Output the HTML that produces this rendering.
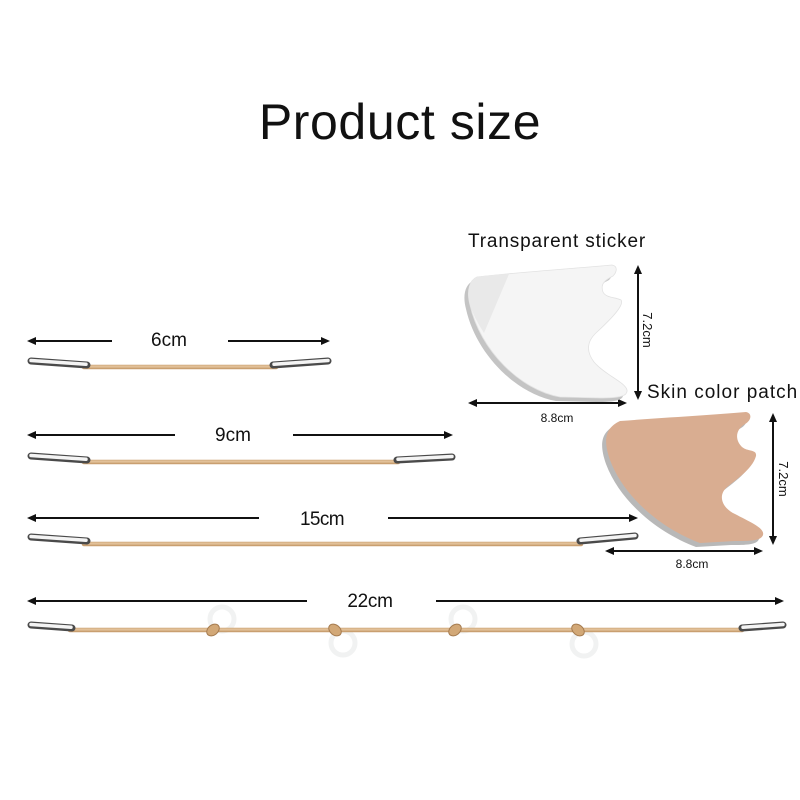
<!DOCTYPE html>
<html>
<head>
<meta charset="utf-8">
<style>
  html,body{margin:0;padding:0;background:#fff;}
  svg{display:block;}
  text{font-family:"Liberation Sans", sans-serif;fill:#111;}
</style>
</head>
<body>
<svg width="800" height="800" viewBox="0 0 800 800" xmlns="http://www.w3.org/2000/svg">
  <rect width="800" height="800" fill="#fff"/>

  <!-- Title -->
  <text x="400" y="139" font-size="50" text-anchor="middle" letter-spacing="0.6">Product size</text>

  <!-- ===== Arrows ===== -->
  <g stroke="#111" stroke-width="2" fill="none">
    <line x1="33" y1="341" x2="112" y2="341"/>
    <line x1="228" y1="341" x2="324" y2="341"/>
    <line x1="33" y1="435" x2="175" y2="435"/>
    <line x1="293" y1="435" x2="447" y2="435"/>
    <line x1="33" y1="518" x2="259" y2="518"/>
    <line x1="388" y1="518" x2="632" y2="518"/>
    <line x1="33" y1="601" x2="307" y2="601"/>
    <line x1="436" y1="601" x2="778" y2="601"/>
    <line x1="474" y1="403" x2="621" y2="403"/>
    <line x1="638" y1="271" x2="638" y2="394"/>
    <line x1="611" y1="551" x2="757" y2="551"/>
    <line x1="773" y1="419" x2="773" y2="539"/>
  </g>
  <g fill="#111">
    <polygon points="27,341 36,337 36,345"/>
    <polygon points="330,341 321,337 321,345"/>
    <polygon points="27,435 36,431 36,439"/>
    <polygon points="453,435 444,431 444,439"/>
    <polygon points="27,518 36,514 36,522"/>
    <polygon points="638,518 629,514 629,522"/>
    <polygon points="27,601 36,597 36,605"/>
    <polygon points="784,601 775,597 775,605"/>
    <polygon points="468,403 477,399 477,407"/>
    <polygon points="627,403 618,399 618,407"/>
    <polygon points="638,265 634,274 642,274"/>
    <polygon points="638,400 634,391 642,391"/>
    <polygon points="605,551 614,547 614,555"/>
    <polygon points="763,551 754,547 754,555"/>
    <polygon points="773,413 769,422 777,422"/>
    <polygon points="773,545 769,536 777,536"/>
  </g>

  <!-- Length labels -->
  <text x="169" y="346" font-size="19" text-anchor="middle">6cm</text>
  <text x="233" y="441" font-size="19" text-anchor="middle">9cm</text>
  <text x="322" y="525" font-size="19" text-anchor="middle" letter-spacing="-0.6">15cm</text>
  <text x="370" y="607" font-size="19" text-anchor="middle" letter-spacing="-0.3">22cm</text>

  <!-- rings (22cm) - very faint -->
  <g fill="none" stroke="#eceeee" stroke-width="5" opacity="0.75">
    <circle cx="222" cy="619" r="12"/>
    <circle cx="343" cy="643" r="12"/>
    <circle cx="463" cy="619" r="12"/>
    <circle cx="584" cy="644" r="12"/>
  </g>

  <!-- ===== Elastic bands ===== -->
  <g stroke-linecap="round">
    <g stroke="#c99f70" stroke-width="4.5">
      <line x1="84" y1="367" x2="276" y2="367"/>
      <line x1="84" y1="462" x2="398" y2="462"/>
      <line x1="84" y1="544" x2="581" y2="544"/>
      <line x1="70" y1="630" x2="742" y2="630"/>
    </g>
    <g stroke="#e2c098" stroke-width="2.2">
      <line x1="84" y1="366.5" x2="276" y2="366.5"/>
      <line x1="84" y1="461.5" x2="398" y2="461.5"/>
      <line x1="84" y1="543.5" x2="581" y2="543.5"/>
      <line x1="70" y1="629.5" x2="742" y2="629.5"/>
    </g>
  </g>

  <!-- knots -->
  <g fill="#d2a877" stroke="#a67c50" stroke-width="1">
    <ellipse cx="213" cy="630" rx="7" ry="5" transform="rotate(-40 213 630)"/>
    <ellipse cx="335" cy="630" rx="7" ry="5" transform="rotate(40 335 630)"/>
    <ellipse cx="455" cy="630" rx="7" ry="5" transform="rotate(-40 455 630)"/>
    <ellipse cx="578" cy="630" rx="7" ry="5" transform="rotate(40 578 630)"/>
  </g>

  <!-- ===== Metal clips ===== -->
  <g stroke-linecap="round">
    <g stroke="#4a4a4a" stroke-width="7">
      <line x1="31" y1="361" x2="87" y2="365"/>
      <line x1="273" y1="365" x2="328" y2="361"/>
      <line x1="31" y1="456" x2="87" y2="460"/>
      <line x1="397" y1="460" x2="452" y2="457"/>
      <line x1="31" y1="537" x2="87" y2="541"/>
      <line x1="580" y1="541" x2="635" y2="536"/>
      <line x1="31" y1="625" x2="72" y2="628"/>
      <line x1="742" y1="628" x2="783" y2="625"/>
    </g>
    <g stroke="#f4f4f4" stroke-width="3.5">
      <line x1="31" y1="360.5" x2="86" y2="364.2"/>
      <line x1="274" y1="364.2" x2="328" y2="360.5"/>
      <line x1="31" y1="455.5" x2="86" y2="459.2"/>
      <line x1="398" y1="459.3" x2="452" y2="456.5"/>
      <line x1="31" y1="536.5" x2="86" y2="540.2"/>
      <line x1="581" y1="540.2" x2="635" y2="535.5"/>
      <line x1="31" y1="624.5" x2="71" y2="627.3"/>
      <line x1="743" y1="627.3" x2="783" y2="624.5"/>
    </g>
  </g>

  <!-- ===== Transparent sticker ===== -->
  <path transform="translate(-4,4)" fill="#c4c4c4"
    d="M 477 277 C 520 272, 580 268, 612 265 C 618 266, 617 272, 613 276 C 605 280, 600 284, 603 292 C 606 298, 615 297, 621 300 C 625 305, 610 320, 597 332 C 588 340, 585 350, 594 362 C 605 375, 625 382, 627 390 C 628 396, 620 398, 600 398 L 560 397 C 520 390, 480 350, 470 305 C 466 290, 470 280, 477 277 Z"/>
  <path fill="#f5f5f5" stroke="#e2e2e2" stroke-width="0.8"
    d="M 477 277 C 520 272, 580 268, 612 265 C 618 266, 617 272, 613 276 C 605 280, 600 284, 603 292 C 606 298, 615 297, 621 300 C 625 305, 610 320, 597 332 C 588 340, 585 350, 594 362 C 605 375, 625 382, 627 390 C 628 396, 620 398, 600 398 L 560 397 C 520 390, 480 350, 470 305 C 466 290, 470 280, 477 277 Z"/>
  <path fill="#e9e9e9" d="M 477 277 C 490 275, 503 274, 509 274 L 484 333 C 477 322, 472 312, 470 305 C 466 290, 470 280, 477 277 Z"/>

  <text x="468" y="247" font-size="19" letter-spacing="0.85">Transparent sticker</text>
  <text x="557" y="422" font-size="12" text-anchor="middle">8.8cm</text>
  <text transform="translate(643,330) rotate(90)" font-size="13" text-anchor="middle">7.2cm</text>

  <!-- ===== Skin color patch ===== -->
  <path transform="translate(-4,4)" fill="#b8b8b8"
    d="M 620 421 C 660 418, 710 415, 746 412 C 752 413, 752 420, 745 424 C 735 430, 735 440, 742 447 C 748 452, 757 449, 756 456 C 752 470, 735 480, 726 488 C 718 496, 722 508, 735 514 C 750 522, 765 528, 763 535 C 761 541, 750 541, 735 541 L 700 543 C 665 530, 625 500, 610 460 C 603 440, 605 428, 620 421 Z"/>
  <path fill="#d9ad91"
    d="M 620 421 C 660 418, 710 415, 746 412 C 752 413, 752 420, 745 424 C 735 430, 735 440, 742 447 C 748 452, 757 449, 756 456 C 752 470, 735 480, 726 488 C 718 496, 722 508, 735 514 C 750 522, 765 528, 763 535 C 761 541, 750 541, 735 541 L 700 543 C 665 530, 625 500, 610 460 C 603 440, 605 428, 620 421 Z"/>

  <text x="647" y="398" font-size="19" letter-spacing="1">Skin color patch</text>
  <text x="692" y="568" font-size="12" text-anchor="middle">8.8cm</text>
  <text transform="translate(779,479) rotate(90)" font-size="13" text-anchor="middle">7.2cm</text>
</svg>
</body>
</html>
